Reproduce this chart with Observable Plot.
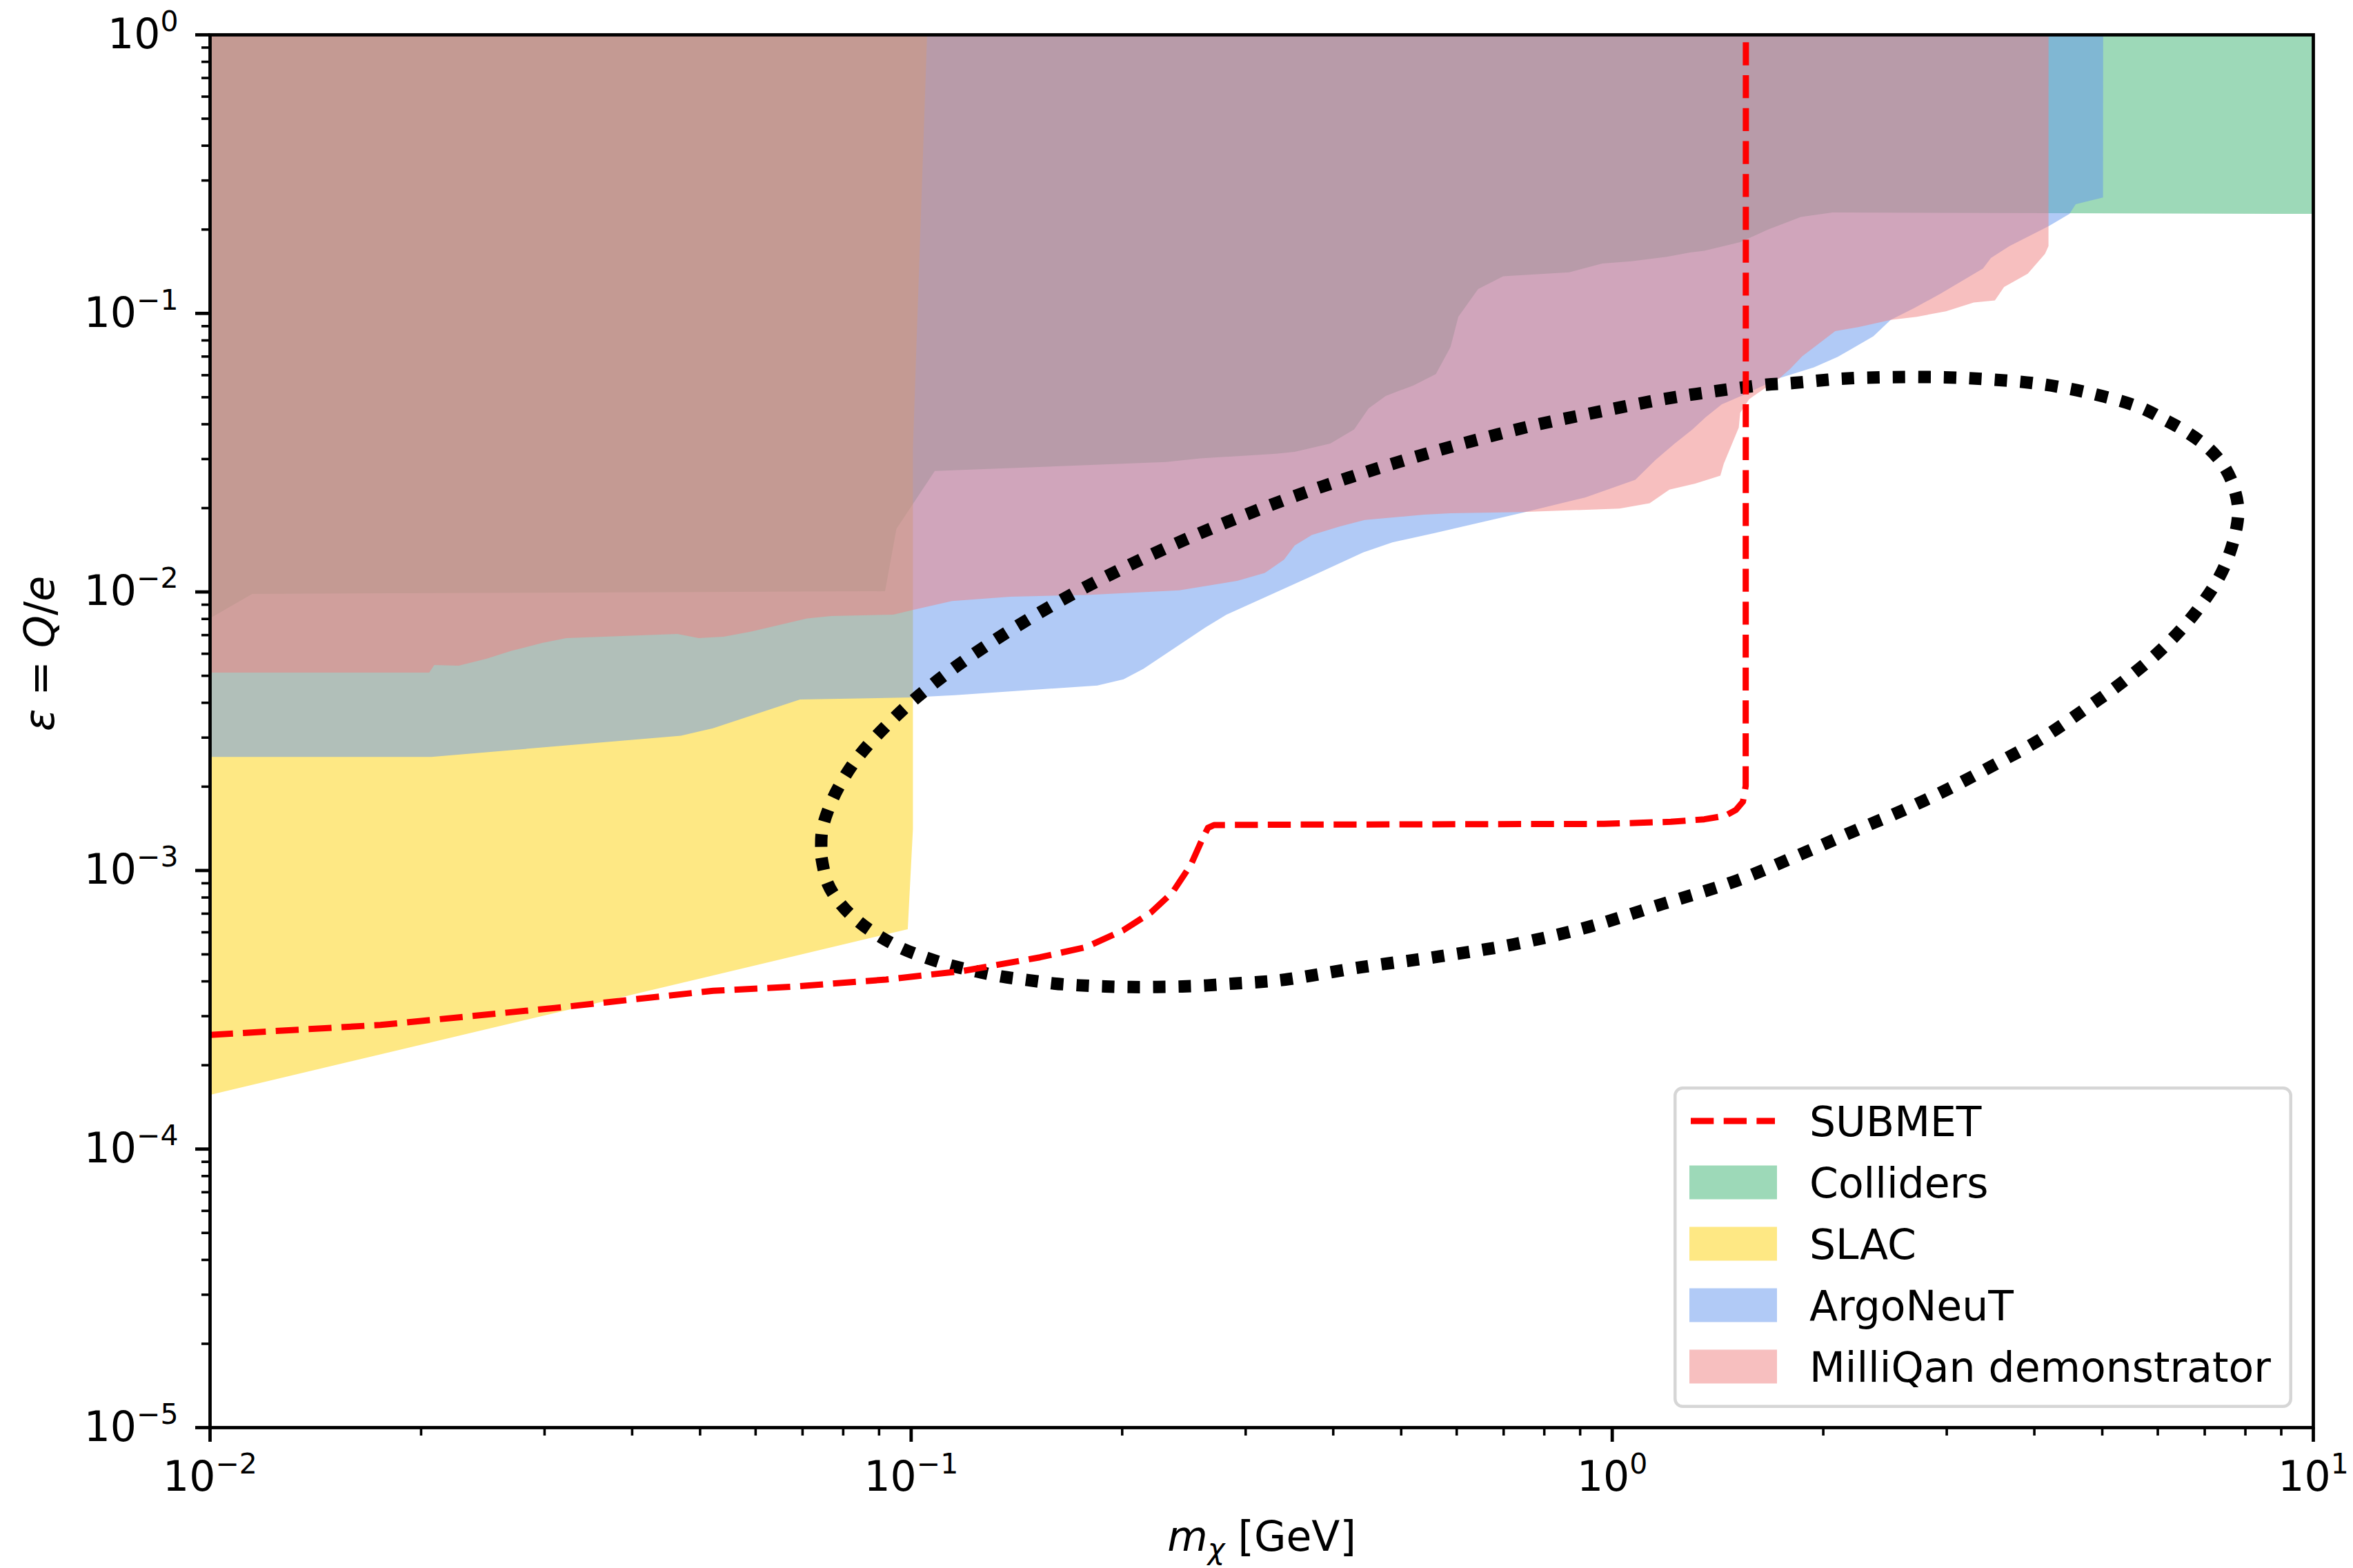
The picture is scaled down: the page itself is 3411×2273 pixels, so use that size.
<!DOCTYPE html>
<html>
<head>
<meta charset="utf-8">
<script src="https://cdn.jsdelivr.net/npm/d3@7"></script>
<script src="https://cdn.jsdelivr.net/npm/@observablehq/plot@0.6"></script>
<style>
  html, body { margin: 0; padding: 0; background: #fff; overflow: hidden; }
  #wrap { position: relative; width: 3411px; height: 2273px; font-family: "DejaVu Sans"; }
</style>
</head>
<body>
<div id="wrap"></div>
<script>
// ---------------- data ----------------
const EPS_TOP = 1;

// Colliders: lower boundary (filled up to eps = 1)
const collidersM   = [0.01, 0.0115, 0.0919, 0.0954, 0.1082, 0.2311, 0.2587, 0.332, 0.3528, 0.3966, 0.4289, 0.4498, 0.4758, 0.5212, 0.561, 0.5886, 0.6039, 0.6445, 0.6998, 0.8694, 0.9687, 1.066, 1.198, 1.293, 1.355, 1.524, 1.67, 1.86, 2.064, 10];
const collidersEps = [8.01e-3, 9.81e-3, 0.01003, 0.0168, 0.0271, 0.02917, 0.03008, 0.03126, 0.03175, 0.034, 0.0382, 0.0455, 0.0504, 0.055, 0.0604, 0.0755, 0.097, 0.122, 0.1355, 0.14, 0.1505, 0.1535, 0.1592, 0.1649, 0.1674, 0.1798, 0.1993, 0.2213, 0.2296, 0.227];

// SLAC
const slacM   = [0.01, 0.099, 0.1007, 0.1007, 0.1055];
const slacEps = [1.56e-4, 6.14e-4, 1.405e-3, 0.0327, 1];

// ArgoNeuT
const argoM   = [0.01, 0.0207, 0.047, 0.0522, 0.061, 0.0695, 0.1001, 0.1155, 0.1845, 0.2011, 0.2147, 0.2632, 0.282, 0.332, 0.3716, 0.4419, 0.4862, 0.5586, 0.7437, 0.9156, 1.08, 1.154, 1.229, 1.303, 1.361, 1.434, 1.537, 1.735, 1.942, 2.1, 2.36, 2.498, 2.7, 2.945, 3.383, 3.472, 3.69, 4.195, 4.495, 4.588, 5.018, 5.02];
const argoEps = [2.55e-3, 2.55e-3, 3.04e-3, 3.23e-3, 3.68e-3, 4.10e-3, 4.17e-3, 4.25e-3, 4.60e-3, 4.84e-3, 5.28e-3, 7.44e-3, 8.27e-3, 9.95e-3, 0.01131, 0.01382, 0.01502, 0.01622, 0.01918, 0.02177, 0.0252, 0.0297, 0.034, 0.0382, 0.0423, 0.047, 0.0507, 0.0584, 0.0638, 0.0696, 0.0825, 0.0945, 0.1042, 0.1175, 0.1445, 0.1577, 0.174, 0.205, 0.227, 0.2459, 0.26, 1];

// MilliQan demonstrator
const milliM   = [0.01, 0.02056, 0.02091, 0.02265, 0.0248, 0.02692, 0.0298, 0.03226, 0.04646, 0.04983, 0.05408, 0.05922, 0.07112, 0.077, 0.09443, 0.1006, 0.1145, 0.1386, 0.1781, 0.2414, 0.2921, 0.3199, 0.3407, 0.3528, 0.3733, 0.4088, 0.444, 0.5397, 0.5886, 0.7437, 1.025, 1.132, 1.208, 1.315, 1.428, 1.444, 1.517, 1.524, 1.57, 1.735, 1.797, 1.868, 2.082, 2.251, 2.498, 2.723, 2.996, 3.282, 3.518, 3.626, 3.919, 4.147, 4.195, 4.196];
const milliEps = [5.12e-3, 5.12e-3, 5.45e-3, 5.42e-3, 5.74e-3, 6.13e-3, 6.54e-3, 6.81e-3, 7.05e-3, 6.81e-3, 6.89e-3, 7.19e-3, 8.01e-3, 8.17e-3, 8.27e-3, 8.59e-3, 9.25e-3, 9.59e-3, 9.73e-3, 0.0101, 0.01093, 0.01167, 0.01303, 0.01463, 0.01597, 0.01712, 0.01808, 0.0189, 0.0191, 0.0193, 0.01987, 0.02075, 0.02324, 0.02442, 0.02608, 0.02877, 0.0388, 0.04381, 0.0491, 0.05843, 0.06308, 0.0699, 0.08618, 0.08908, 0.09445, 0.09696, 0.1015, 0.1091, 0.111, 0.1241, 0.1384, 0.163, 0.174, 1];

// SUBMET projected sensitivity
const submetM   = [0.01, 0.0175, 0.031, 0.0522, 0.068, 0.0921, 0.1186, 0.1527, 0.1777, 0.2007, 0.2198, 0.2359, 0.2506, 0.2598, 0.265, 0.2704, 0.3379, 0.973, 1.212, 1.353, 1.45, 1.501, 1.536, 1.55, 1.551];
const submetEps = [2.57e-4, 2.79e-4, 3.21e-4, 3.70e-4, 3.83e-4, 4.06e-4, 4.36e-4, 4.88e-4, 5.31e-4, 6.10e-4, 7.07e-4, 8.34e-4, 1.049e-3, 1.285e-3, 1.422e-3, 1.456e-3, 1.461e-3, 1.47e-3, 1.496e-3, 1.527e-3, 1.572e-3, 1.65e-3, 1.766e-3, 2.012e-3, 1];

// black dotted closed contour
const ellipseM   = [0.0745, 0.076, 0.0795, 0.0845, 0.0905, 0.0974, 0.1054, 0.1144, 0.1241, 0.1348, 0.147, 0.1598, 0.1738, 0.1892, 0.2058, 0.2243, 0.2436, 0.265, 0.2888, 0.3141, 0.3419, 0.4396, 0.5651, 0.7229, 0.9266, 1.181, 1.502, 1.902, 2.231, 2.593, 3.02, 3.523, 4.079, 4.697, 5.384, 6.128, 6.864, 7.485, 7.811, 7.721, 7.459, 7.065, 6.567, 6.114, 5.672, 4.824, 4.079, 3.454, 2.976, 2.51, 2.123, 1.816, 1.647, 1.391, 1.175, 0.9196, 0.7798, 0.6602, 0.561, 0.4778, 0.4061, 0.3453, 0.2732, 0.2337, 0.2007, 0.1725, 0.1489, 0.129, 0.1123, 0.09856, 0.08712, 0.08279, 0.07913, 0.07635, 0.07459, 0.0745];
const ellipseEps = [1.111e-3, 9.0e-4, 7.53e-4, 6.5e-4, 5.77e-4, 5.23e-4, 4.85e-4, 4.55e-4, 4.34e-4, 4.16e-4, 4.04e-4, 3.93e-4, 3.87e-4, 3.835e-4, 3.816e-4, 3.82e-4, 3.835e-4, 3.87e-4, 3.93e-4, 3.98e-4, 4.06e-4, 4.5e-4, 4.91e-4, 5.43e-4, 6.28e-4, 7.59e-4, 9.18e-4, 1.174e-3, 1.398e-3, 1.641e-3, 1.966e-3, 2.411e-3, 2.955e-3, 3.761e-3, 4.818e-3, 6.353e-3, 8.747e-3, 0.0125, 0.0188, 0.0233, 0.02825, 0.03304, 0.03778, 0.04173, 0.04592, 0.05159, 0.0558, 0.05794, 0.05898, 0.05905, 0.05828, 0.05629, 0.05536, 0.05241, 0.04909, 0.04346, 0.03984, 0.03587, 0.03209, 0.02847, 0.02496, 0.02167, 0.01724, 0.01457, 0.01218, 0.01003, 8.135e-3, 6.5e-3, 5.09e-3, 3.89e-3, 2.85e-3, 2.43e-3, 2.03e-3, 1.68e-3, 1.376e-3, 1.111e-3];

// axes / ticks / labels
const xMajorTicks  = [0.01, 0.1, 1, 10];
const xMajorLabels = ["10^−2", "10^−1", "10^0", "10^1"];
const yMajorTicks  = [1e-5, 1e-4, 1e-3, 1e-2, 1e-1, 1];
const yMajorLabels = ["10^−5", "10^−4", "10^−3", "10^−2", "10^−1", "10^0"];
const xMinorTicks  = [0.02, 0.03, 0.04, 0.05, 0.06, 0.07, 0.08, 0.09, 0.2, 0.3, 0.4, 0.5, 0.6, 0.7, 0.8, 0.9, 2, 3, 4, 5, 6, 7, 8, 9];
const yMinorTicks  = [2e-5, 3e-5, 4e-5, 5e-5, 6e-5, 7e-5, 8e-5, 9e-5, 2e-4, 3e-4, 4e-4, 5e-4, 6e-4, 7e-4, 8e-4, 9e-4, 2e-3, 3e-3, 4e-3, 5e-3, 6e-3, 7e-3, 8e-3, 9e-3, 0.02, 0.03, 0.04, 0.05, 0.06, 0.07, 0.08, 0.09, 0.2, 0.3, 0.4, 0.5, 0.6, 0.7, 0.8, 0.9];
const X_LABEL = "m_χ [GeV]";
const Y_LABEL = "ε = Q/e";

// legend
const legendLabels = ["SUBMET", "Colliders", "SLAC", "ArgoNeuT", "MilliQan demonstrator"];
const legendKinds  = ["line", "fill", "fill", "fill", "fill"];
const legendColors = ["#ff0000", "#3cb371", "#fdd20a", "#6495ed", "#f08080"];

// ---------------- build ----------------
const rows = (ms, es) => ms.map((m, i) => ({m, eps: es[i], top: EPS_TOP}));
const FILL_OPACITY = 0.5;
const area = (ms, es, color) => Plot.areaY(rows(ms, es), {x: "m", y1: "eps", y2: "top", fill: color, fillOpacity: FILL_OPACITY, curve: "linear"});

const svg = Plot.plot({
  width: 3411,
  height: 2273,
  marginLeft: 304,
  marginRight: 58,
  marginTop: 50,
  marginBottom: 204,
  style: {fontFamily: "DejaVu Sans", fontSize: "60px", background: "white", color: "black"},
  x: {type: "log", domain: [0.01, 10]},
  y: {type: "log", domain: [1e-5, 1]},
  marks: [
    area(collidersM, collidersEps, legendColors[1]),
    area(slacM, slacEps, legendColors[2]),
    area(argoM, argoEps, legendColors[3]),
    area(milliM, milliEps, legendColors[4]),
    Plot.line(rows(ellipseM, ellipseEps), {x: "m", y: "eps", stroke: "black", strokeWidth: 18, strokeDasharray: "18,19", strokeLinecap: "butt", strokeLinejoin: "round", curve: "catmull-rom"}),
    Plot.line(rows(submetM, submetEps), {x: "m", y: "eps", stroke: legendColors[0], strokeWidth: 9, strokeDasharray: "33.3,14.4", strokeLinecap: "butt", strokeLinejoin: "round", curve: "linear"}),
    Plot.frame({stroke: "black", strokeWidth: 4.8}),
    Plot.axisX(xMinorTicks, {anchor: "bottom", tickSize: 12, strokeWidth: 3.6, tickFormat: () => "", label: null}),
    Plot.axisY(yMinorTicks, {anchor: "left", tickSize: 12, strokeWidth: 3.6, tickFormat: () => "", label: null}),
    Plot.axisX(xMajorTicks, {anchor: "bottom", tickSize: 21, strokeWidth: 4.8, tickPadding: 28, fontSize: 60, tickFormat: d => xMajorLabels[xMajorTicks.indexOf(d)], label: null}),
    Plot.axisY(yMajorTicks, {anchor: "left", tickSize: 21, strokeWidth: 4.8, tickPadding: 25, fontSize: 60, tickFormat: d => yMajorLabels[yMajorTicks.indexOf(d)], label: null}),
    Plot.text([X_LABEL], {text: d => d, frameAnchor: "bottom", lineAnchor: "bottom", dy: 178, fontSize: 60, fill: "black"}),
    Plot.text([Y_LABEL], {text: d => d, frameAnchor: "left", lineAnchor: "bottom", rotate: -90, dx: -227, fontSize: 60, fill: "black"})
  ]
});

const wrap = document.getElementById("wrap");
wrap.appendChild(svg);

// ---------------- rich text (superscripts, italics) ----------------
const NS = "http://www.w3.org/2000/svg";
function richText(el, parts) {
  el.textContent = "";
  for (const p of parts) {
    const ts = document.createElementNS(NS, "tspan");
    ts.textContent = p.t;
    if (p.italic) ts.setAttribute("font-style", "italic");
    if (p.size) ts.setAttribute("font-size", p.size);
    if (p.dy) ts.setAttribute("dy", p.dy);
    el.appendChild(ts);
  }
}
svg.querySelectorAll("text").forEach(t => {
  const s = t.textContent;
  if (s === X_LABEL) {
    richText(t, [{t: "m", italic: true}, {t: "χ", italic: true, size: 42, dy: 12}, {t: " [GeV]", dy: -12}]);
  } else if (s === Y_LABEL) {
    richText(t, [{t: "ε", italic: true}, {t: " = "}, {t: "Q", italic: true}, {t: "/"}, {t: "e", italic: true}]);
  } else if (s.indexOf("^") > 0) {
    const i = s.indexOf("^");
    richText(t, [{t: s.slice(0, i)}, {t: s.slice(i + 1), size: 41, dy: -25}]);
  }
});

// ---------------- legend (overlay in the axes' lower right) ----------------
const leg = d3.create("svg")
  .attr("width", 905).attr("height", 474)
  .style("position", "absolute").style("left", "2422px").style("top", "1571px")
  .style("font-family", "DejaVu Sans");
leg.append("rect")
  .attr("x", 6.25).attr("y", 6.25).attr("width", 892.5).attr("height", 461.5)
  .attr("rx", 11).attr("ry", 11)
  .attr("fill", "white").attr("fill-opacity", 0.8)
  .attr("stroke", "#d6d6d6").attr("stroke-width", 4.5);
legendLabels.forEach((lab, i) => {
  const yc = 54 + 89 * i;
  if (legendKinds[i] === "line") {
    leg.append("line")
      .attr("x1", 29).attr("x2", 151).attr("y1", yc).attr("y2", yc)
      .attr("stroke", legendColors[i]).attr("stroke-width", 9)
      .attr("stroke-dasharray", "33.3,14.4");
  } else {
    leg.append("rect")
      .attr("x", 27).attr("y", yc - 24.5).attr("width", 127).attr("height", 49)
      .attr("fill", legendColors[i]).attr("fill-opacity", FILL_OPACITY);
  }
  leg.append("text")
    .attr("x", 201).attr("y", yc + 22)
    .attr("font-size", 60).attr("fill", "black")
    .text(lab);
});
wrap.appendChild(leg.node());
</script>
</body>
</html>
